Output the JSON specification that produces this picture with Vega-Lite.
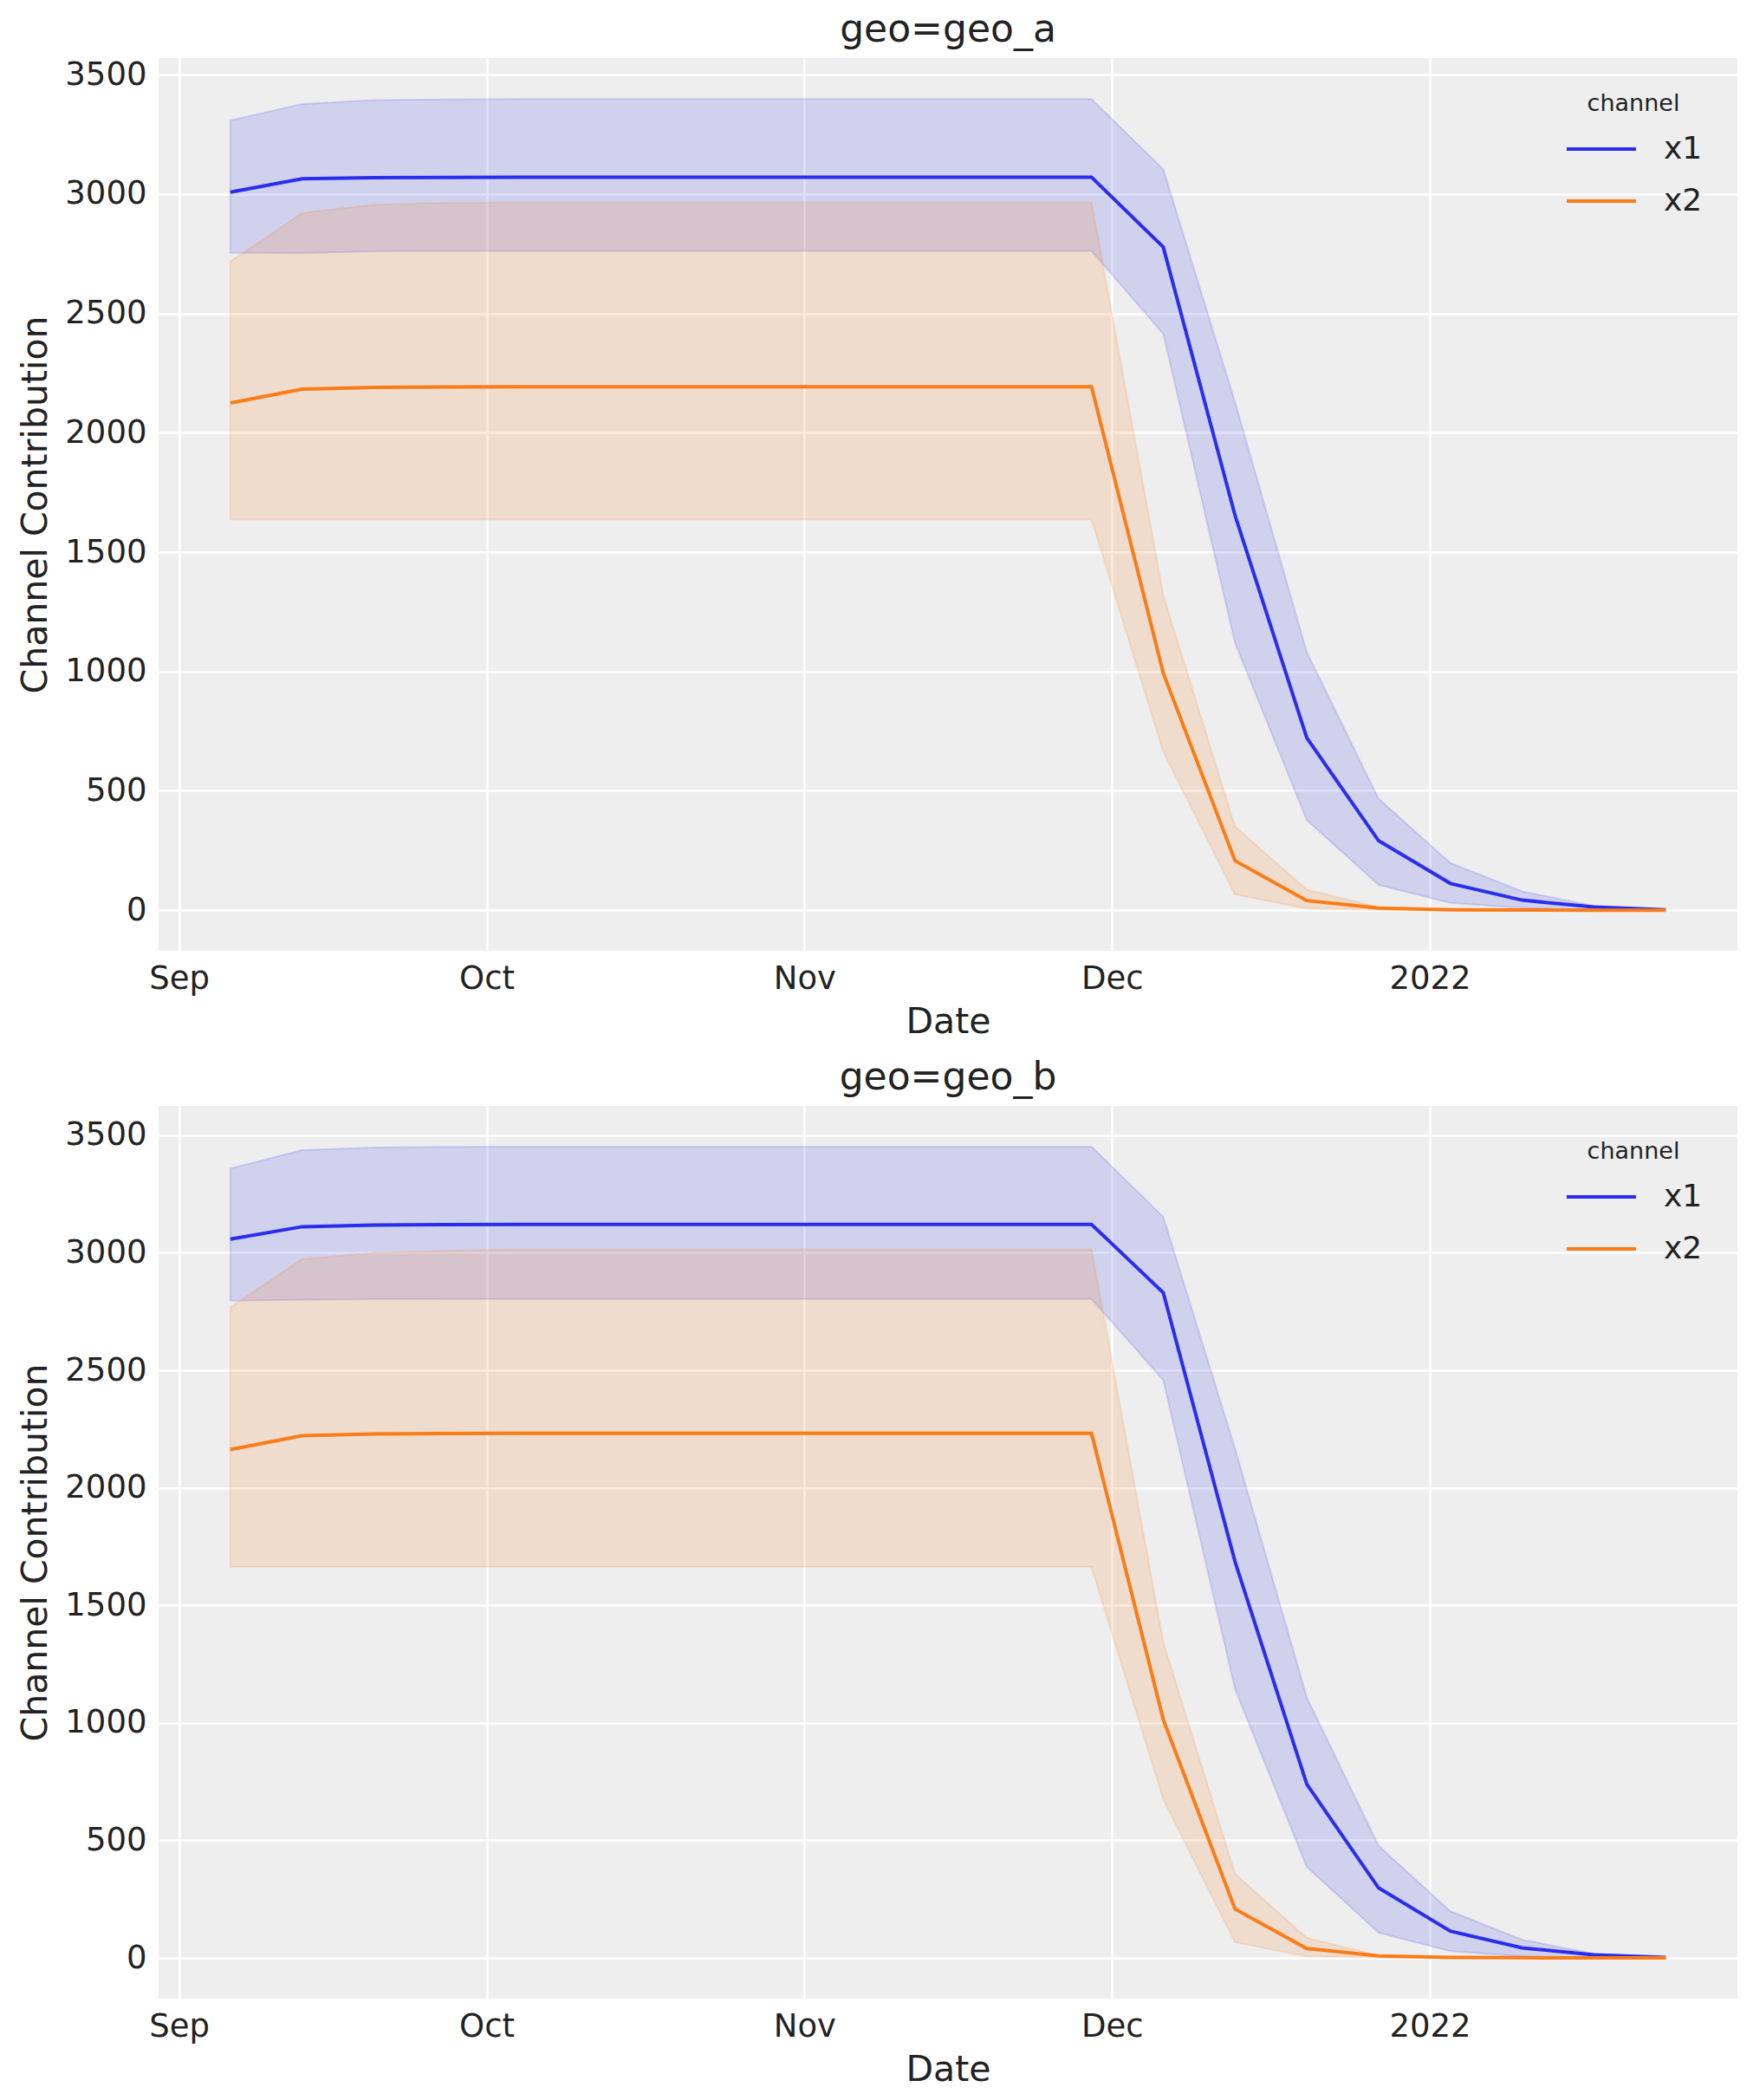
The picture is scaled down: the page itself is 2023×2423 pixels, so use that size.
{
  "$schema": "https://vega.github.io/schema/vega-lite/v6.json",
  "padding": {"left": 20, "top": 13, "right": 17, "bottom": 5},
  "background": "white",
  "datasets": {
    "contrib": [
      {"geo":"geo_a","channel":"x1","date":"2021-09-06","mean":3008,"lower":2754,"upper":3309},
      {"geo":"geo_a","channel":"x1","date":"2021-09-13","mean":3064,"lower":2753,"upper":3378},
      {"geo":"geo_a","channel":"x1","date":"2021-09-20","mean":3069,"lower":2760,"upper":3394},
      {"geo":"geo_a","channel":"x1","date":"2021-09-27","mean":3070,"lower":2762,"upper":3397},
      {"geo":"geo_a","channel":"x1","date":"2021-10-04","mean":3071,"lower":2762,"upper":3398},
      {"geo":"geo_a","channel":"x1","date":"2021-10-11","mean":3071,"lower":2762,"upper":3398},
      {"geo":"geo_a","channel":"x1","date":"2021-10-18","mean":3071,"lower":2762,"upper":3398},
      {"geo":"geo_a","channel":"x1","date":"2021-10-25","mean":3071,"lower":2762,"upper":3398},
      {"geo":"geo_a","channel":"x1","date":"2021-11-01","mean":3071,"lower":2762,"upper":3398},
      {"geo":"geo_a","channel":"x1","date":"2021-11-08","mean":3071,"lower":2762,"upper":3398},
      {"geo":"geo_a","channel":"x1","date":"2021-11-15","mean":3071,"lower":2762,"upper":3398},
      {"geo":"geo_a","channel":"x1","date":"2021-11-22","mean":3071,"lower":2762,"upper":3398},
      {"geo":"geo_a","channel":"x1","date":"2021-11-29","mean":3071,"lower":2762,"upper":3398},
      {"geo":"geo_a","channel":"x1","date":"2021-12-06","mean":2778,"lower":2414,"upper":3104},
      {"geo":"geo_a","channel":"x1","date":"2021-12-13","mean":1654,"lower":1119,"upper":2128},
      {"geo":"geo_a","channel":"x1","date":"2021-12-20","mean":722,"lower":377,"upper":1081},
      {"geo":"geo_a","channel":"x1","date":"2021-12-27","mean":291,"lower":106,"upper":467},
      {"geo":"geo_a","channel":"x1","date":"2022-01-03","mean":112,"lower":31,"upper":198},
      {"geo":"geo_a","channel":"x1","date":"2022-01-10","mean":42,"lower":9,"upper":79},
      {"geo":"geo_a","channel":"x1","date":"2022-01-17","mean":13,"lower":2,"upper":18},
      {"geo":"geo_a","channel":"x1","date":"2022-01-24","mean":2,"lower":0,"upper":3},
      {"geo":"geo_a","channel":"x2","date":"2021-09-06","mean":2125,"lower":1637,"upper":2718},
      {"geo":"geo_a","channel":"x2","date":"2021-09-13","mean":2183,"lower":1637,"upper":2921},
      {"geo":"geo_a","channel":"x2","date":"2021-09-20","mean":2190,"lower":1637,"upper":2955},
      {"geo":"geo_a","channel":"x2","date":"2021-09-27","mean":2192,"lower":1637,"upper":2964},
      {"geo":"geo_a","channel":"x2","date":"2021-10-04","mean":2193,"lower":1637,"upper":2965},
      {"geo":"geo_a","channel":"x2","date":"2021-10-11","mean":2193,"lower":1637,"upper":2965},
      {"geo":"geo_a","channel":"x2","date":"2021-10-18","mean":2193,"lower":1637,"upper":2965},
      {"geo":"geo_a","channel":"x2","date":"2021-10-25","mean":2193,"lower":1637,"upper":2965},
      {"geo":"geo_a","channel":"x2","date":"2021-11-01","mean":2193,"lower":1637,"upper":2965},
      {"geo":"geo_a","channel":"x2","date":"2021-11-08","mean":2193,"lower":1637,"upper":2965},
      {"geo":"geo_a","channel":"x2","date":"2021-11-15","mean":2193,"lower":1637,"upper":2965},
      {"geo":"geo_a","channel":"x2","date":"2021-11-22","mean":2193,"lower":1637,"upper":2965},
      {"geo":"geo_a","channel":"x2","date":"2021-11-29","mean":2193,"lower":1637,"upper":2965},
      {"geo":"geo_a","channel":"x2","date":"2021-12-06","mean":993,"lower":663,"upper":1319},
      {"geo":"geo_a","channel":"x2","date":"2021-12-13","mean":207,"lower":66,"upper":350},
      {"geo":"geo_a","channel":"x2","date":"2021-12-20","mean":40,"lower":7,"upper":86},
      {"geo":"geo_a","channel":"x2","date":"2021-12-27","mean":9,"lower":1,"upper":13},
      {"geo":"geo_a","channel":"x2","date":"2022-01-03","mean":2,"lower":0,"upper":3},
      {"geo":"geo_a","channel":"x2","date":"2022-01-10","mean":1,"lower":0,"upper":1},
      {"geo":"geo_a","channel":"x2","date":"2022-01-17","mean":0,"lower":0,"upper":0},
      {"geo":"geo_a","channel":"x2","date":"2022-01-24","mean":0,"lower":0,"upper":0},
      {"geo":"geo_b","channel":"x1","date":"2021-09-06","mean":3058,"lower":2796,"upper":3359},
      {"geo":"geo_b","channel":"x1","date":"2021-09-13","mean":3111,"lower":2800,"upper":3437},
      {"geo":"geo_b","channel":"x1","date":"2021-09-20","mean":3118,"lower":2803,"upper":3448},
      {"geo":"geo_b","channel":"x1","date":"2021-09-27","mean":3120,"lower":2804,"upper":3451},
      {"geo":"geo_b","channel":"x1","date":"2021-10-04","mean":3121,"lower":2804,"upper":3452},
      {"geo":"geo_b","channel":"x1","date":"2021-10-11","mean":3121,"lower":2804,"upper":3452},
      {"geo":"geo_b","channel":"x1","date":"2021-10-18","mean":3121,"lower":2804,"upper":3452},
      {"geo":"geo_b","channel":"x1","date":"2021-10-25","mean":3121,"lower":2804,"upper":3452},
      {"geo":"geo_b","channel":"x1","date":"2021-11-01","mean":3121,"lower":2804,"upper":3452},
      {"geo":"geo_b","channel":"x1","date":"2021-11-08","mean":3121,"lower":2804,"upper":3452},
      {"geo":"geo_b","channel":"x1","date":"2021-11-15","mean":3121,"lower":2804,"upper":3452},
      {"geo":"geo_b","channel":"x1","date":"2021-11-22","mean":3121,"lower":2804,"upper":3452},
      {"geo":"geo_b","channel":"x1","date":"2021-11-29","mean":3121,"lower":2804,"upper":3452},
      {"geo":"geo_b","channel":"x1","date":"2021-12-06","mean":2830,"lower":2458,"upper":3153},
      {"geo":"geo_b","channel":"x1","date":"2021-12-13","mean":1686,"lower":1144,"upper":2167},
      {"geo":"geo_b","channel":"x1","date":"2021-12-20","mean":739,"lower":387,"upper":1108},
      {"geo":"geo_b","channel":"x1","date":"2021-12-27","mean":298,"lower":107,"upper":477},
      {"geo":"geo_b","channel":"x1","date":"2022-01-03","mean":114,"lower":29,"upper":199},
      {"geo":"geo_b","channel":"x1","date":"2022-01-10","mean":43,"lower":7,"upper":78},
      {"geo":"geo_b","channel":"x1","date":"2022-01-17","mean":13,"lower":2,"upper":18},
      {"geo":"geo_b","channel":"x1","date":"2022-01-24","mean":2,"lower":0,"upper":3},
      {"geo":"geo_b","channel":"x2","date":"2021-09-06","mean":2163,"lower":1663,"upper":2768},
      {"geo":"geo_b","channel":"x2","date":"2021-09-13","mean":2222,"lower":1663,"upper":2973},
      {"geo":"geo_b","channel":"x2","date":"2021-09-20","mean":2229,"lower":1663,"upper":3000},
      {"geo":"geo_b","channel":"x2","date":"2021-09-27","mean":2231,"lower":1663,"upper":3008},
      {"geo":"geo_b","channel":"x2","date":"2021-10-04","mean":2232,"lower":1663,"upper":3015},
      {"geo":"geo_b","channel":"x2","date":"2021-10-11","mean":2232,"lower":1663,"upper":3015},
      {"geo":"geo_b","channel":"x2","date":"2021-10-18","mean":2232,"lower":1663,"upper":3015},
      {"geo":"geo_b","channel":"x2","date":"2021-10-25","mean":2232,"lower":1663,"upper":3015},
      {"geo":"geo_b","channel":"x2","date":"2021-11-01","mean":2232,"lower":1663,"upper":3015},
      {"geo":"geo_b","channel":"x2","date":"2021-11-08","mean":2232,"lower":1663,"upper":3015},
      {"geo":"geo_b","channel":"x2","date":"2021-11-15","mean":2232,"lower":1663,"upper":3015},
      {"geo":"geo_b","channel":"x2","date":"2021-11-22","mean":2232,"lower":1663,"upper":3015},
      {"geo":"geo_b","channel":"x2","date":"2021-11-29","mean":2232,"lower":1663,"upper":3015},
      {"geo":"geo_b","channel":"x2","date":"2021-12-06","mean":1014,"lower":674,"upper":1343},
      {"geo":"geo_b","channel":"x2","date":"2021-12-13","mean":208,"lower":67,"upper":358},
      {"geo":"geo_b","channel":"x2","date":"2021-12-20","mean":40,"lower":7,"upper":85},
      {"geo":"geo_b","channel":"x2","date":"2021-12-27","mean":9,"lower":1,"upper":11},
      {"geo":"geo_b","channel":"x2","date":"2022-01-03","mean":2,"lower":0,"upper":3},
      {"geo":"geo_b","channel":"x2","date":"2022-01-10","mean":1,"lower":0,"upper":1},
      {"geo":"geo_b","channel":"x2","date":"2022-01-17","mean":0,"lower":0,"upper":0},
      {"geo":"geo_b","channel":"x2","date":"2022-01-24","mean":0,"lower":0,"upper":0}
    ]
  },
  "data": {"name": "contrib"},
  "spacing": 23,
  "resolve": {"legend": {"color": "independent"}, "scale": {"y": "independent"}},
  "vconcat": [
    {
      "title": "geo=geo_a",
      "width": 1822,
      "height": 1030,
      "transform": [{"filter": "datum.geo == 'geo_a'"}],
      "encoding": {
        "x": {
          "field": "date", "type": "temporal", "title": "Date",
          "scale": {"type": "utc", "domain": [{"year": 2021, "month": 8, "date": 30, "utc": true}, {"year": 2022, "month": 1, "date": 31, "utc": true}]},
          "axis": {"tickCount": {"interval": "month"}, "labelExpr": "utcFormat(datum.value, '%m') == '01' ? utcFormat(datum.value, '%Y') : utcFormat(datum.value, '%b')"}
        }
      },
      "layer": [
        {
          "mark": {"type": "area", "fillOpacity": 0.15, "strokeOpacity": 0.15, "strokeWidth": 2},
          "encoding": {
            "y": {"field": "upper", "type": "quantitative", "title": "Channel Contribution", "scale": {"domain": [-170, 3570], "nice": false, "zero": false}, "axis": {"values": [0, 500, 1000, 1500, 2000, 2500, 3000, 3500], "format": "d"}},
            "y2": {"field": "lower"},
            "fill": {"field": "channel", "type": "nominal", "scale": {"domain": ["x1", "x2"], "range": ["#2a2eec", "#fa7c17"]}, "legend": null},
            "stroke": {"field": "channel", "type": "nominal", "scale": {"domain": ["x1", "x2"], "range": ["#2a2eec", "#fa7c17"]}, "legend": null}
          }
        },
        {
          "mark": {"type": "line", "strokeWidth": 4},
          "encoding": {
            "y": {"field": "mean", "type": "quantitative"},
            "color": {"field": "channel", "type": "nominal", "title": "channel", "scale": {"domain": ["x1", "x2"], "range": ["#2a2eec", "#fa7c17"]}}
          }
        }
      ]
    },
    {
      "title": "geo=geo_b",
      "width": 1822,
      "height": 1030,
      "transform": [{"filter": "datum.geo == 'geo_b'"}],
      "encoding": {
        "x": {
          "field": "date", "type": "temporal", "title": "Date",
          "scale": {"type": "utc", "domain": [{"year": 2021, "month": 8, "date": 30, "utc": true}, {"year": 2022, "month": 1, "date": 31, "utc": true}]},
          "axis": {"tickCount": {"interval": "month"}, "labelExpr": "utcFormat(datum.value, '%m') == '01' ? utcFormat(datum.value, '%Y') : utcFormat(datum.value, '%b')"}
        }
      },
      "layer": [
        {
          "mark": {"type": "area", "fillOpacity": 0.15, "strokeOpacity": 0.15, "strokeWidth": 2},
          "encoding": {
            "y": {"field": "upper", "type": "quantitative", "title": "Channel Contribution", "scale": {"domain": [-173, 3625], "nice": false, "zero": false}, "axis": {"values": [0, 500, 1000, 1500, 2000, 2500, 3000, 3500], "format": "d"}},
            "y2": {"field": "lower"},
            "fill": {"field": "channel", "type": "nominal", "scale": {"domain": ["x1", "x2"], "range": ["#2a2eec", "#fa7c17"]}, "legend": null},
            "stroke": {"field": "channel", "type": "nominal", "scale": {"domain": ["x1", "x2"], "range": ["#2a2eec", "#fa7c17"]}, "legend": null}
          }
        },
        {
          "mark": {"type": "line", "strokeWidth": 4},
          "encoding": {
            "y": {"field": "mean", "type": "quantitative"},
            "color": {"field": "channel", "type": "nominal", "title": "channel", "scale": {"domain": ["x1", "x2"], "range": ["#2a2eec", "#fa7c17"]}}
          }
        }
      ]
    }
  ],
  "config": {
    "font": "DejaVu Sans",
    "view": {"fill": "#eeeeee", "stroke": null},
    "title": {"fontSize": 44, "fontWeight": "normal", "color": "#222222", "anchor": "middle", "offset": 10},
    "axis": {
      "domain": false,
      "ticks": false,
      "grid": true,
      "gridColor": "#ffffff",
      "gridWidth": 2.5,
      "labelFontSize": 37,
      "labelColor": "#222222",
      "labelPadding": 14,
      "titleFontSize": 41,
      "titleFontWeight": "normal",
      "titleColor": "#222222",
      "titlePadding": 12
    },
    "legend": {
      "orient": "top-right",
      "offset": 40,
      "titleFontSize": 27,
      "titleFontWeight": "normal",
      "titleColor": "#222222",
      "titleAnchor": "middle",
      "titlePadding": -4,
      "labelFontSize": 36,
      "labelColor": "#222222",
      "labelOffset": 30,
      "symbolType": "stroke",
      "symbolSize": 6400,
      "symbolStrokeWidth": 4,
      "rowPadding": -22
    }
  }
}
